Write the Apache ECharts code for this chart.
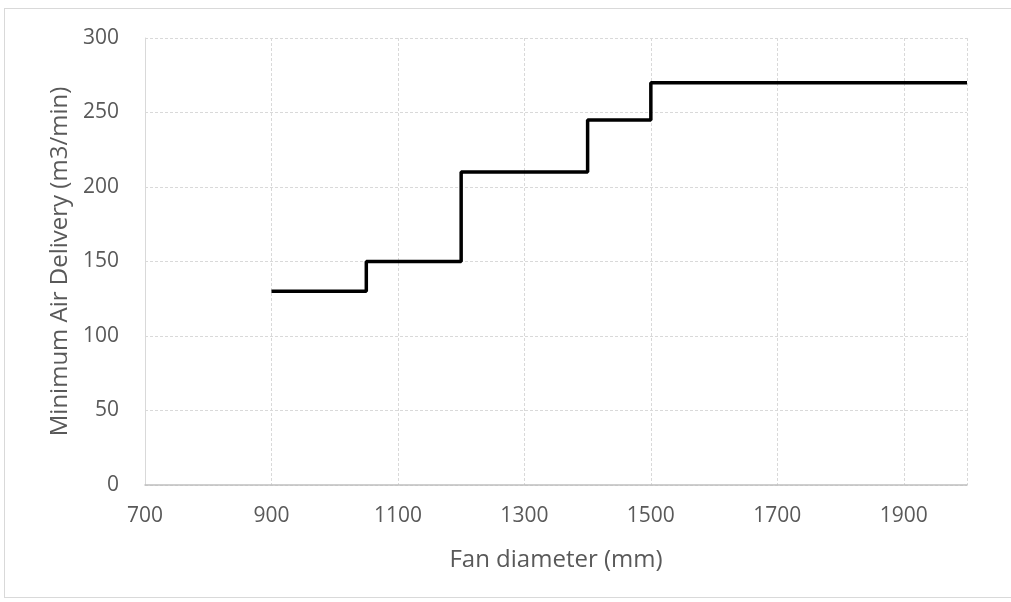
<!DOCTYPE html>
<html>
<head>
<meta charset="utf-8">
<script src="https://cdn.jsdelivr.net/npm/echarts@6/dist/echarts.min.js"></script>
<style>
html,body{margin:0;padding:0;background:#fff;}
#frame{position:absolute;left:4px;top:8px;width:1010px;height:590px;border:1px solid #d9d9d9;box-sizing:border-box;}
#c{position:absolute;left:0;top:0;width:1011px;height:602px;}
</style>
</head>
<body>
<div id="frame"></div>
<div id="c"></div>
<script>
const fanDiameter = [900, 1050, 1200, 1400, 1500, 2000];
const airDelivery = [130, 150, 210, 245, 270, 270];
const xTitle = 'Fan diameter (mm)';
const yTitle = 'Minimum Air Delivery (m3/min)';

const chart = echarts.init(document.getElementById('c'), null, {renderer:'canvas'});
const font = '"Open Sans", "DejaVu Sans", sans-serif';
const labelColor = '#595959';
chart.setOption({
  animation:false,
  backgroundColor:'transparent',
  grid:{left:145, right:44, top:38, bottom:117, containLabel:false},
  xAxis:{
    type:'value', min:700, max:2000, interval:200,
    name:xTitle, nameLocation:'middle', nameGap:63,
    nameTextStyle:{color:labelColor, fontSize:24, fontFamily:font},
    axisLine:{show:true, lineStyle:{color:'#bfbfbf', width:1.5}},
    axisTick:{show:false},
    axisLabel:{color:labelColor, fontSize:21, fontFamily:font, margin:21,
      formatter:v => (v===2000 ? '' : String(v))},
    splitLine:{show:true, lineStyle:{color:'#d9d9d9', type:[3,2], width:1}}
  },
  yAxis:{
    type:'value', min:0, max:300, interval:50,
    name:yTitle, nameLocation:'middle', nameGap:73, nameRotate:90,
    nameTextStyle:{color:labelColor, fontSize:24, fontFamily:font},
    axisLine:{show:true, lineStyle:{color:'#d9d9d9', width:1}},
    axisTick:{show:false},
    axisLabel:{color:labelColor, fontSize:21, fontFamily:font, margin:26},
    splitLine:{show:true, lineStyle:{color:'#d9d9d9', type:[3,2], width:1}}
  },
  series:[{
    type:'line', step:'end', symbol:'none',
    data:fanDiameter.map((x,i)=>[x, airDelivery[i]]),
    lineStyle:{color:'#000', width:3.5},
    z:5
  }]
});
</script>
</body>
</html>
